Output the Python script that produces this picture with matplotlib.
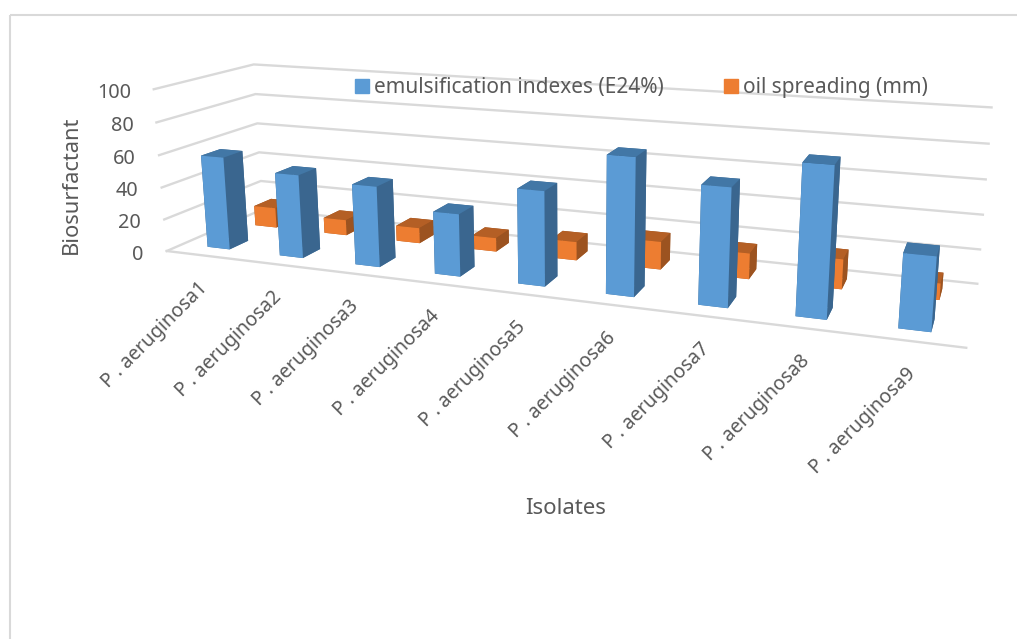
import numpy as np
import matplotlib
matplotlib.use('Agg')
import matplotlib.pyplot as plt
from matplotlib.patches import Patch, Rectangle
from mpl_toolkits.mplot3d import proj3d

plt.rcParams['font.family'] = ['Noto Sans', 'DejaVu Sans']

isolates = ['P . aeruginosa1', 'P . aeruginosa2', 'P . aeruginosa3',
            'P . aeruginosa4', 'P . aeruginosa5', 'P . aeruginosa6',
            'P . aeruginosa7', 'P . aeruginosa8', 'P . aeruginosa9']
emulsification = [57.7, 51.0, 48.5, 36.9, 54.9, 78.0, 65.9, 81.9, 39.7]
oil_spreading = [13.0, 9.9, 9.7, 8.5, 11.3, 16.7, 15.2, 17.3, 9.4]
z_ticks = [0, 20, 40, 60, 80, 100]

W, H = 1017, 639
TEXT = '#595959'
GRID = '#D9D9D9'

# front, side and top shades of each series
BLUE = ('#5B9BD5', '#3A668F', '#4277A6')
ORANGE = ('#ED7D31', '#9C5320', '#B45F25')

fig = plt.figure(figsize=(W / 100, H / 100), dpi=100, facecolor='white')
ax = fig.add_subplot(projection='3d', computed_zorder=False)
ax.set_xlim(0, 9)
ax.set_ylim(0, 2)
ax.set_zlim(0, 100)
ax.set_proj_type('persp', focal_length=0.2848)
ax.view_init(13.9444, -69.1801, 0.2157)
ax.set_box_aspect((np.exp(1.5008), 1, np.exp(-0.0393)))
ax.set_axis_off()

# place the square axes so the projected scene lands where it should
scale, cx, cy = 4453.54, 553.54, 183.67
t0 = ax.transLimits.transform((0, 0))
t1 = ax.transLimits.transform((1, 1))
L = scale / (t1[0] - t0[0])
left = cx - L * t0[0]
bottom = H - cy - L * t0[1]
ax.set_position([left / W, bottom / H, L / W, L / H])


def pixel(x, y):
    return x / W, 1 - y / H


def label_at(x, y, z, text, dx, dy, **kwargs):
    # 3D text ignores rotation, so project the anchor and annotate in 2D
    u, v, _ = proj3d.proj_transform(x, y, z, ax.get_proj())
    ax.annotate(text, xy=(u, v), xycoords='data', xytext=(dx * 0.72, -dy * 0.72),
                textcoords='offset points', annotation_clip=False, color=TEXT, **kwargs)


def draw_row(values, row, shades, first_z):
    # bar3d faces: bottom, top, front, back, left, right
    front, side, top = shades
    faces = [top, top, front, side, side, side]
    for i, v in enumerate(values):
        bar = ax.bar3d(i + 0.35, row + 0.31, 0, 0.31, 0.38, v, color=faces,
                       shade=False, edgecolor='none', linewidth=0, zorder=first_z + i)
        bar.set_clip_on(False)


for z in z_ticks:
    ax.plot([0, 0, 9], [0, 2, 2], [z, z, z], color=GRID, lw=1.7, zorder=1, clip_on=False)
ax.plot([0, 9], [0, 0], [0, 0], color=GRID, lw=1.7, zorder=1, clip_on=False)

draw_row(oil_spreading, 1, ORANGE, 10)
draw_row(emulsification, 0, BLUE, 30)

for z in z_ticks:
    label_at(0, 0, z, str(z), -23, 3.5, ha='right', va='center', fontsize=14.3)

for i, name in enumerate(isolates):
    label_at(i + 0.5, 0, 0, name, -5, 23, rotation=45, rotation_mode='anchor',
             ha='right', va='top', fontsize=14)

fig.text(*pixel(71, 185), 'Biosurfactant', rotation=90, ha='center', va='center',
         fontsize=15.8, color=TEXT)
fig.text(*pixel(566, 509), 'Isolates', ha='center', va='center', fontsize=16, color=TEXT)

handles = [Patch(color=BLUE[0]), Patch(color=ORANGE[0])]
fig.legend(handles, ['emulsification indexes (E24%)', 'oil spreading (mm)'],
           ncol=2, frameon=False, loc='center', bbox_to_anchor=pixel(641.5, 88),
           fontsize=15, labelcolor=TEXT, handlelength=0.66, handleheight=0.66,
           handletextpad=0.25, columnspacing=2.9, borderpad=0)

# chart frame, running off the top right and bottom
fig.add_artist(Rectangle(pixel(9.5, 14.5), 1, -1, transform=fig.transFigure, fill=False,
                         edgecolor=GRID, lw=1.5))

fig.savefig('out.png', dpi=100)
